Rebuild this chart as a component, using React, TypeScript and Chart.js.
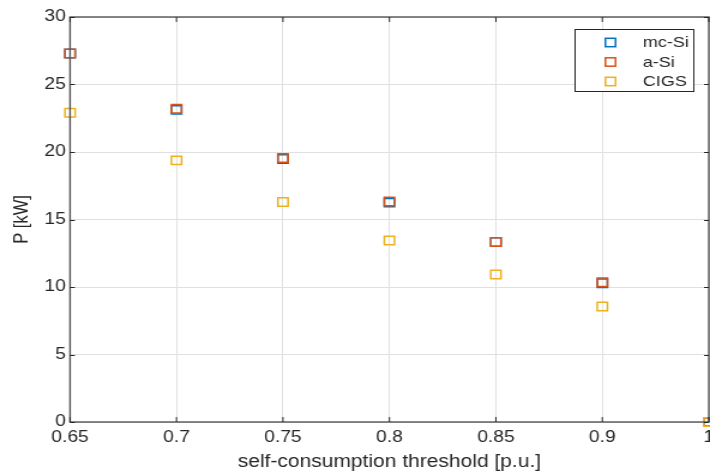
import React, { useEffect, useRef } from 'react';
import { Chart, registerables } from 'chart.js';

Chart.register(...registerables);

const thresholds = ['0.65', '0.7', '0.75', '0.8', '0.85', '0.9', '1'];
const mcSi = [27.3, 23.12, 19.48, 16.25, 13.33, 10.28, 0];
const aSi = [27.3, 23.2, 19.56, 16.33, 13.33, 10.36, 0];
const cigs = [22.9, 19.38, 16.3, 13.45, 10.93, 8.55, 0];
const seriesNames = ['mc-Si', 'a-Si', 'CIGS'];
const seriesColors = ['#0072BD', '#D95319', '#EDB120'];
const yMin = 0;
const yMax = 30;
const yStep = 5;
const xTitle = 'self-consumption threshold [p.u.]';
const yTitle = 'P [kW]';

const FONT = '"Liberation Sans", Arial, Helvetica, sans-serif';
const TEXT = '#262626';
const CANVAS_W = 592;
const CANVAS_H = 474;
const STRETCH = 710 / CANVAS_W;

const framePlugin = {
  id: 'matlabFrame',
  afterDraw(chart: any) {
    const { ctx, chartArea } = chart;
    const { left, right, top, bottom } = chartArea;
    ctx.save();
    ctx.strokeStyle = '#555555';
    ctx.lineWidth = 1.4;
    ctx.strokeRect(left, top, right - left, bottom - top);
    ctx.lineWidth = 1;
    ctx.strokeStyle = '#262626';
    const xs = chart.scales.x;
    const ys = chart.scales.y;
    const tl = 5;
    xs.ticks.forEach((_: any, i: number) => {
      const px = xs.getPixelForTick(i);
      ctx.beginPath();
      ctx.moveTo(px, bottom);
      ctx.lineTo(px, bottom - tl);
      ctx.moveTo(px, top);
      ctx.lineTo(px, top + tl);
      ctx.stroke();
    });
    ys.ticks.forEach((_: any, i: number) => {
      const py = Math.round(ys.getPixelForTick(i)) + 0.5;
      ctx.beginPath();
      ctx.moveTo(left, py);
      ctx.lineTo(left + 4, py);
      ctx.moveTo(right, py);
      ctx.lineTo(right - 4, py);
      ctx.stroke();
    });
    // legend box
    const bx = right - 111.5;
    const by = top + 12.5;
    const bw = 99;
    const bh = 62;
    ctx.fillStyle = '#ffffff';
    ctx.fillRect(bx, by, bw, bh);
    ctx.strokeStyle = '#262626';
    ctx.lineWidth = 1;
    ctx.strokeRect(bx, by, bw, bh);
    ctx.font = `15px ${FONT}`;
    ctx.textBaseline = 'middle';
    ctx.textAlign = 'left';
    chart.data.datasets.forEach((ds: any, i: number) => {
      const cy = by + 13 + i * 19.5;
      const cx = bx + 29.5;
      ctx.strokeStyle = ds.borderColor;
      ctx.lineWidth = 1.5;
      ctx.strokeRect(cx - 4.2, cy - 4.2, 8.4, 8.4);
      ctx.fillStyle = TEXT;
      ctx.fillText(ds.label, bx + 56.5, cy + 0.5);
    });
    ctx.restore();
  },
};

export default function App() {
  const ref = useRef<HTMLCanvasElement | null>(null);
  useEffect(() => {
    if (!ref.current) return;
    const seriesData = [mcSi, aSi, cigs];
    const chart = new Chart(ref.current, {
      type: 'line',
      data: {
        labels: thresholds,
        datasets: seriesData.map((d, i) => ({
          label: seriesNames[i],
          data: d,
          order: seriesData.length - i,
          showLine: false,
          pointStyle: 'rect',
          pointRadius: 6,
          pointBorderWidth: 1.5,
          borderColor: seriesColors[i],
          backgroundColor: 'rgba(0,0,0,0)',
          pointBackgroundColor: 'rgba(0,0,0,0)',
          clip: false,
        })),
      },
      options: {
        responsive: false,
        animation: false,
        events: [],
        layout: { autoPadding: false, padding: { top: 17, right: 1, left: 0, bottom: 0 } },
        plugins: {
          legend: { display: false },
          tooltip: { enabled: false },
        },
        scales: {
          x: {
            type: 'category',
            offset: false,
            grid: { color: '#e0e0e0', drawTicks: false },
            border: { display: false },
            ticks: {
              font: { family: FONT, size: 16 },
              color: TEXT,
              padding: 6,
              maxRotation: 0,
              autoSkip: false,
            },
            title: {
              display: true,
              text: xTitle,
              font: { family: FONT, size: 17.5 },
              color: TEXT,
              padding: { top: 0, bottom: 1 },
            },
            afterFit(scale: any) {
              scale.height = 52;
              scale.paddingLeft = 0;
              scale.paddingRight = 0;
            },
          },
          y: {
            min: yMin,
            max: yMax,
            grid: { color: '#e0e0e0', drawTicks: false },
            border: { display: false },
            ticks: {
              stepSize: yStep,
              font: { family: FONT, size: 16 },
              color: TEXT,
              padding: 3.5,
            },
            title: {
              display: true,
              text: yTitle,
              font: { family: FONT, size: 16.5 },
              color: TEXT,
              padding: { top: 9, bottom: 0 },
            },
            afterFit(scale: any) {
              scale.width = 58.4;
            },
          },
        },
      } as any,
      plugins: [framePlugin],
    });
    return () => chart.destroy();
  }, []);
  return (
    <div style={{ position: 'fixed', left: 0, top: 0, width: 710, height: 474, background: '#fff', overflow: 'hidden' }}>
      <div style={{ width: CANVAS_W, height: CANVAS_H, transform: `scaleX(${STRETCH})`, transformOrigin: '0 0' }}>
        <canvas ref={ref} width={CANVAS_W} height={CANVAS_H} style={{ display: 'block', width: CANVAS_W, height: CANVAS_H }} />
      </div>
    </div>
  );
}
